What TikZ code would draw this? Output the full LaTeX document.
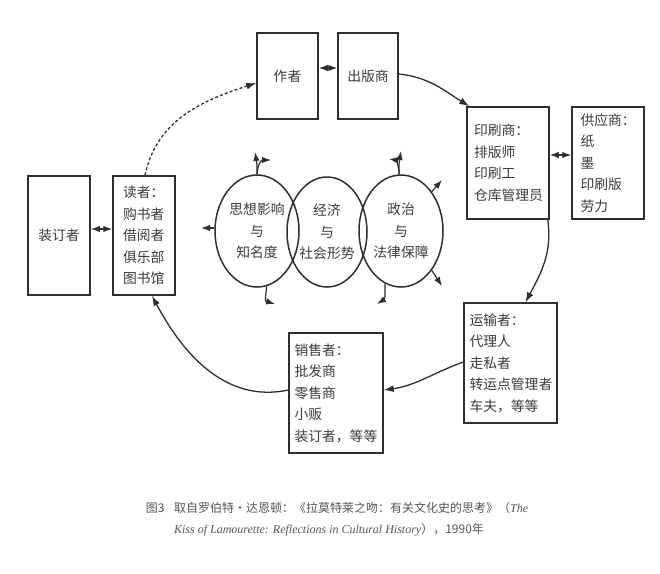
\documentclass[tikz,border=0pt]{standalone}
\usepackage{fontspec}
\newfontfamily\cjk{Noto Sans CJK SC}
\newfontfamily\enserif{Liberation Serif}
\usetikzlibrary{shapes.geometric,arrows.meta}
\definecolor{linec}{HTML}{2E2E2E}
\definecolor{textc}{HTML}{3A3A3A}
\definecolor{capc}{HTML}{555555}
\begin{document}
\begin{tikzpicture}[x=1pt,y=1pt,
  box/.style={draw=linec, line width=1.5pt, rectangle, inner sep=0pt, text=textc,
    font=\cjk\fontsize{13.8}{21.5}\selectfont},
  lbox/.style={box, align=left},
  ell/.style={draw=linec, line width=1.5pt, ellipse, inner sep=0pt, align=center, text=textc,
    font=\cjk\fontsize{13.8}{21.5}\selectfont, minimum width=84, minimum height=112},
  bigtip/.tip={Latex[length=10pt,width=7pt]},
  smalltip/.tip={Latex[length=9pt,width=6.5pt]},
  arr/.style={draw=linec, line width=1.3pt, -bigtip},
  sarr/.style={draw=linec, line width=1.2pt, -smalltip},
  darr/.style={draw=linec, line width=1.3pt, smalltip-smalltip},
  captxt/.style={text=capc, inner sep=0pt, font=\cjk\fontsize{12}{14}\selectfont}
]
\fill[white] (0,0) rectangle (660,-573);
\useasboundingbox (0,0) rectangle (660,-573);

% boxes
\node[box, minimum width=62, minimum height=119] (binder) at (59,-235.5) {装订者};
\node[lbox, minimum width=62, minimum height=119, text width=42] (reader) at (144,-235.5)
  {读者：\\购书者\\借阅者\\俱乐部\\图书馆};
\node[box, minimum width=61, minimum height=86] (author) at (287.5,-76) {作者};
\node[box, minimum width=60, minimum height=86] (publisher) at (368,-76) {出版商};
\node[lbox, minimum width=82, minimum height=112, text width=68] (printer) at (508,-163)
  {印刷商：\\排版师\\印刷工\\仓库管理员};
\node[lbox, minimum width=72, minimum height=112, text width=55] (supplier) at (608,-163)
  {供应商：\\纸\\墨\\印刷版\\劳力};
\node[lbox, minimum width=93, minimum height=120, text width=82] (shipper) at (510.5,-363)
  {运输者：\\代理人\\走私者\\转运点管理者\\车夫，等等};
\node[lbox, minimum width=94, minimum height=120, text width=83] (seller) at (336,-393)
  {销售者：\\批发商\\零售商\\小贩\\装订者，等等};

% ellipses
\node[ell] (e1) at (257,-231) {思想影响\\与\\知名度};
\node[ell, minimum width=80, minimum height=110] (e2) at (327,-232) {经济\\与\\社会形势};
\node[ell] (e3) at (401,-231) {政治\\与\\法律保障};

% double arrows
\draw[darr] ([yshift=6.5pt]binder.east) -- ([yshift=6.5pt]reader.west);
\draw[darr] ([yshift=8pt]author.east) -- ([yshift=8pt]publisher.west);
\draw[darr] ([yshift=8pt]printer.east) -- ([yshift=8pt]supplier.west);

% cycle
\draw[arr, dash pattern=on 3pt off 2.2pt] ([xshift=1pt]reader.north) to[out=78, in=198] ([yshift=-7pt]author.west);
\draw[arr] ([yshift=2pt]publisher.east) to[out=-6, in=148] ([xshift=3pt]printer.north west);
\draw[arr] ([xshift=-2pt]printer.south east) to[out=-82, in=62] ([xshift=15pt]shipper.north);
\draw[arr] ([yshift=1pt]shipper.west) to[out=200, in=8] ([yshift=3pt]seller.east);
\draw[arr] ([yshift=3pt]seller.west) to[out=192, in=-62] ([xshift=8pt]reader.south);

% small arrows around ellipses
\coordinate (a1) at (255,-152);
\coordinate (a2) at (271,-160);
\coordinate (a3) at (201,-228);
\coordinate (a4) at (275,-304);
\coordinate (b1) at (389,-159);
\coordinate (b2) at (401,-151);
\coordinate (b3) at (442,-180);
\coordinate (b4) at (442,-286);
\coordinate (b5) at (377,-304);
\draw[sarr] (e1.north) .. controls (257,-164) .. (a1);
\draw[sarr] (e1.north) .. controls (258,-162) and (262,-160) .. (a2);
\draw[sarr] ([yshift=3pt]e1.west) -- (a3);
\draw[sarr] (e1.-80) .. controls (265,-301) .. (a4);
\draw[sarr] ([xshift=-2pt]e3.north) .. controls (399,-166) and (396,-160) .. (b1);
\draw[sarr] ([xshift=-2pt]e3.north) .. controls (399,-163) .. (b2);
\draw[sarr] (e3.52) -- (b3);
\draw[sarr] (e3.-52) -- (b4);
\draw[sarr] (e3.-107) .. controls (385,-299) .. (b5);

% caption
\node[captxt] (cap1) at (337,-508) {图3\hspace{0.8em}取自罗伯特·达恩顿：《拉莫特莱之吻：有关文化史的思考》（{\enserif\itshape The}};
\node[captxt] (cap2) at (329,-530) {{\enserif\itshape Kiss of Lamourette: Reflections in Cultural History}），1990年};
\end{tikzpicture}
\end{document}
